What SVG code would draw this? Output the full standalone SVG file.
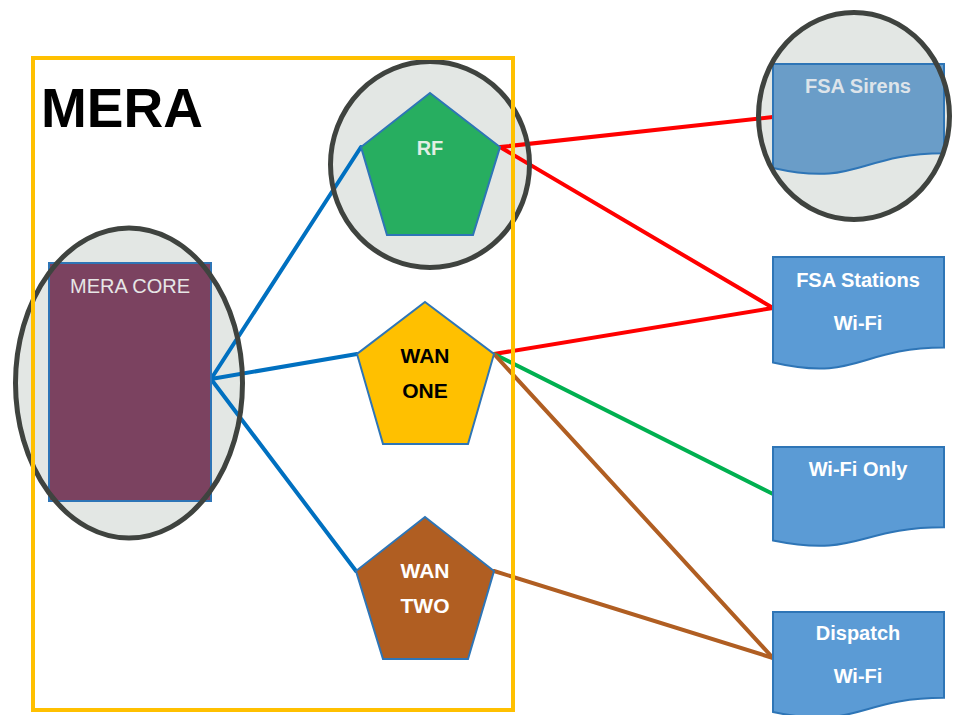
<svg xmlns="http://www.w3.org/2000/svg" width="954" height="715" viewBox="0 0 954 715">
  <style>
    .lens { fill: #E3E7E4; }
    .lensring { fill: none; stroke: #3F433F; stroke-width: 5; }
    .pent { stroke: #2E75B6; stroke-width: 2; }
    .doc { fill: #5B9BD5; stroke: #2E75B6; stroke-width: 2; }
    .lbl { font-family: "Liberation Sans", Arial, sans-serif; font-weight: bold; font-size: 20px; text-anchor: middle; }
    .w { fill: #FFFFFF; }
    .conn line { stroke-width: 4; stroke-linecap: round; }
    .blue { stroke: #0070C0; }
    .red { stroke: #FF0000; }
    .green { stroke: #00B050; }
    .brown { stroke: #B05E22; }
  </style>
  <rect width="954" height="715" fill="#FFFFFF"/>

  <g id="lens-fills">
    <ellipse class="lens" cx="129" cy="383" rx="113.5" ry="155"/>
    <ellipse class="lens" cx="430" cy="164.5" rx="99.5" ry="103"/>
    <ellipse class="lens" cx="854" cy="116" rx="95.5" ry="103.5"/>
  </g>

  <g id="connectors" class="conn">
    <line class="blue" x1="211" y1="379" x2="361" y2="147"/>
    <line class="blue" x1="211" y1="379" x2="357" y2="354"/>
    <line class="blue" x1="211" y1="379" x2="356" y2="571"/>
    <line class="red" x1="500" y1="147" x2="773" y2="117"/>
    <line class="red" x1="500" y1="147" x2="773" y2="308"/>
    <line class="red" x1="494" y1="354" x2="773" y2="308"/>
    <line class="green" x1="494" y1="354" x2="773" y2="494"/>
    <line class="brown" x1="494" y1="354" x2="773" y2="658"/>
    <line class="brown" x1="494" y1="571" x2="773" y2="658"/>
  </g>

  <g id="mera-core">
    <rect x="49" y="263" width="162" height="238" fill="#7B4260" stroke="#2E75B6" stroke-width="2"/>
    <text class="lbl" x="130" y="293" fill="#E6E6E6" style="font-weight:normal">MERA CORE</text>
  </g>

  <g id="rf">
    <polygon class="pent" fill="#27AE60" points="430,93 500,147 473,235 387,235 361,147"/>
    <text class="lbl" x="430" y="155" fill="#E2EEE4">RF</text>
  </g>

  <g id="wan-one">
    <polygon class="pent" fill="#FFC000" points="425,302 494,354 468,444 383,444 357,354"/>
    <text class="lbl" x="425" y="363" fill="#000000" style="font-size:21px">WAN</text>
    <text class="lbl" x="425" y="398" fill="#000000" style="font-size:21px">ONE</text>
  </g>

  <g id="wan-two">
    <polygon class="pent" fill="#B05E22" points="425,517 494,571 468,659 383,659 356,571"/>
    <text class="lbl w" x="425" y="578" style="font-size:21px">WAN</text>
    <text class="lbl w" x="425" y="613" style="font-size:21px">TWO</text>
  </g>

  <g id="fsa-sirens">
    <path class="doc" style="fill:#6A9DC8" d="M773,64 H944 V153.3 C858.5,153.3 858.5,187.2 773,168 Z"/>
    <text class="lbl" x="858" y="93" fill="#DDE4EA">FSA Sirens</text>
  </g>

  <g id="fsa-stations">
    <path class="doc" d="M773,257 H944 V347.6 C858.5,347.6 858.5,382.1 773,362.5 Z"/>
    <text class="lbl w" x="858" y="287">FSA Stations</text>
    <text class="lbl w" x="858" y="330">Wi-Fi</text>
  </g>

  <g id="wifi-only">
    <path class="doc" d="M773,447 H944 V527.2 C858.5,527.2 858.5,557.8 773,540.4 Z"/>
    <text class="lbl w" x="858" y="476">Wi-Fi Only</text>
  </g>

  <g id="dispatch">
    <path class="doc" d="M773,612 H944 V697.8 C858.5,697.8 858.5,730.5 773,712 Z"/>
    <text class="lbl w" x="858" y="640">Dispatch</text>
    <text class="lbl w" x="858" y="683">Wi-Fi</text>
  </g>

  <g id="lens-rings">
    <ellipse class="lensring" cx="129" cy="383" rx="113.5" ry="155"/>
    <ellipse class="lensring" cx="430" cy="164.5" rx="99.5" ry="103"/>
    <ellipse class="lensring" cx="854" cy="116" rx="95.5" ry="103.5"/>
  </g>

  <g id="mera">
    <rect x="33" y="58" width="480" height="652" fill="none" stroke="#FFC000" stroke-width="4"/>
    <text x="41" y="127" font-family="Liberation Sans, Arial, sans-serif" font-weight="bold" font-size="55" fill="#000000">MERA</text>
  </g>
</svg>
